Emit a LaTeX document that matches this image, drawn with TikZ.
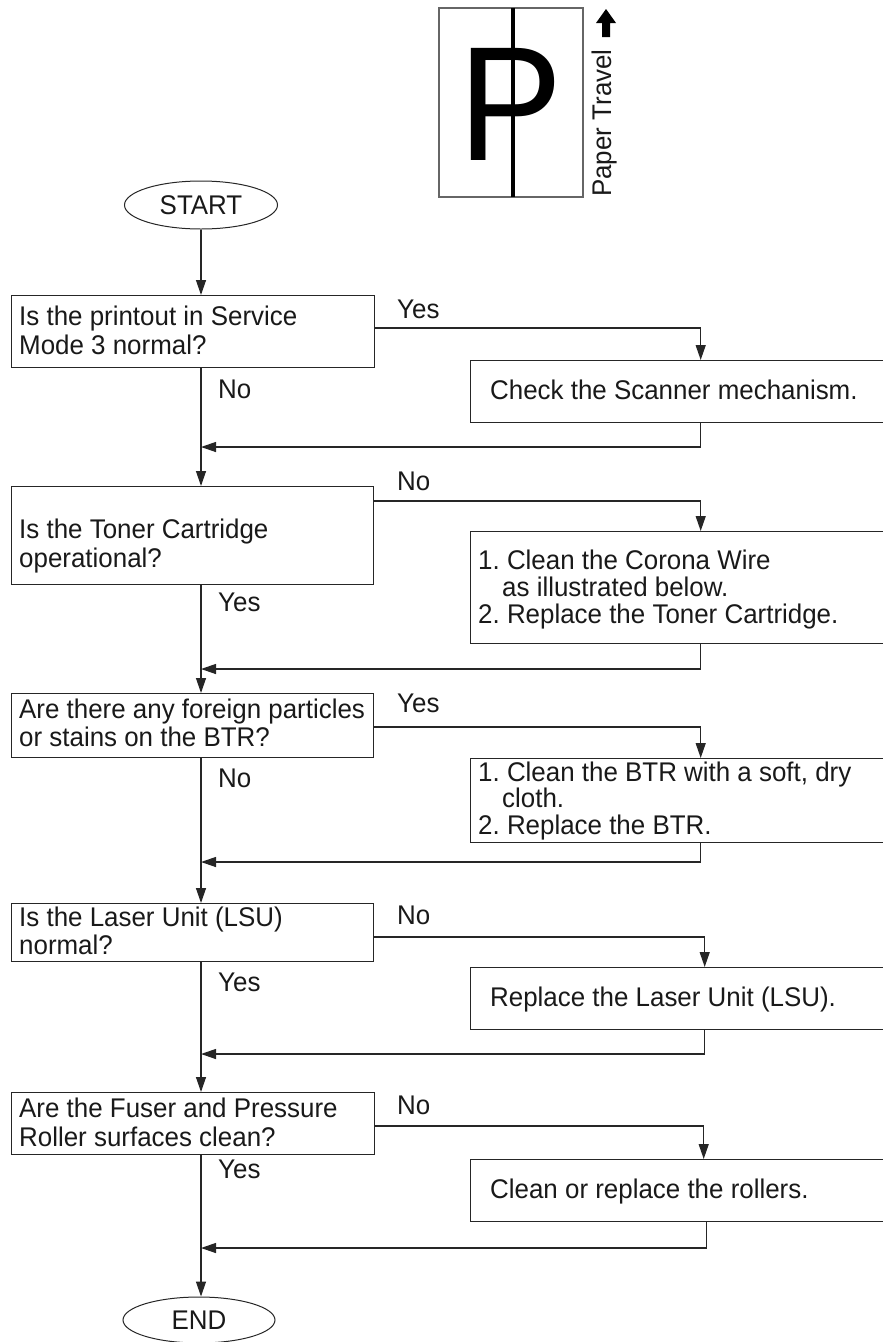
\documentclass[tikz,border=0pt]{standalone}
\usepackage{fontspec}
\setmainfont{Liberation Sans}[FakeStretch=0.96]
\usetikzlibrary{arrows.meta,shapes.geometric,calc}
\newcommand\fsz{\fontsize{27}{30}\selectfont\frenchspacing}
\begin{document}
\begin{tikzpicture}[x=1pt,y=-1pt,
  ln/.style={line width=1.3pt,draw=black!85},
  arr/.style={ln,-{Triangle[length=15pt,width=10pt]}},
  qbox/.style={draw=black!85,line width=1.4pt,inner sep=0pt,anchor=north west},
  abox/.style={draw=black!85,line width=1.4pt,inner sep=0pt,anchor=north west},
  txt/.style={font=\fsz,inner sep=0pt,anchor=base west,text=black!90},
  term/.style={ellipse,draw=black!85,line width=1pt,minimum width=153pt,minimum height=48pt,inner sep=0pt,font=\fsz,text=black!90}]
\useasboundingbox (0,0) rectangle (883,1342);

% paper travel icon
\draw[line width=1.2pt,draw=black!60] (439,8) rectangle (583,197);
\node[font=\fontsize{163}{163}\selectfont,inner sep=0pt,anchor=base west] (pletter) at (458,160) {P};
\draw[line width=4.5pt] (513,8) -- (513,197);
\node[txt,rotate=90] (ptravel) at (611,197) {Paper Travel};
\fill[black] (606,9) -- (616,23) -- (610,23) -- (610,37) -- (602,37) -- (602,23) -- (596,23) -- cycle;

% terminals
\node[term] (start) at (201,205) {START};
\node[term,minimum width=152pt,minimum height=46pt] (end) at (199,1320) {END};

% question boxes
\node[qbox,minimum width=363pt,minimum height=72pt] (b1) at (11,295) {};
\node[qbox,minimum width=362pt,minimum height=98pt] (b2) at (11,486) {};
\node[qbox,minimum width=362pt,minimum height=64pt] (b3) at (11,693) {};
\node[qbox,minimum width=362pt,minimum height=58pt] (b4) at (11,903) {};
\node[qbox,minimum width=363pt,minimum height=62pt] (b5) at (11,1092) {};

\node[txt] (t1a) at (19,325) {Is the printout in Service};
\node[txt] (t1b) at (19,354) {Mode 3 normal?};
\node[txt] (t2a) at (19,538) {Is the Toner Cartridge};
\node[txt] (t2b) at (19,567) {operational?};
\node[txt] (t3a) at (19,718) {Are there any foreign particles};
\node[txt] (t3b) at (19,746) {or stains on the BTR?};
\node[txt] (t4a) at (19,926) {Is the Laser Unit (LSU)};
\node[txt] (t4b) at (19,954) {normal?};
\node[txt] (t5a) at (19,1117) {Are the Fuser and Pressure};
\node[txt] (t5b) at (19,1146) {Roller surfaces clean?};

% action boxes (open to the right edge)
\node[abox,minimum width=460pt,minimum height=62pt] (bA) at (470,360) {};
\node[abox,minimum width=460pt,minimum height=112pt] (bB) at (470,531) {};
\node[abox,minimum width=460pt,minimum height=84pt] (bC) at (470,758) {};
\node[abox,minimum width=468pt,minimum height=62pt] (bD) at (470,967) {};
\node[abox,minimum width=466pt,minimum height=62pt] (bE) at (470,1159) {};

\node[txt] (tA) at (490,399) {Check the Scanner mechanism.};
\node[txt] (tB1) at (478,569) {1. Clean the Corona Wire};
\node[txt] (tB2) at (502,596) {as illustrated below.};
\node[txt] (tB3) at (478,623) {2. Replace the Toner Cartridge.};
\node[txt] (tC1) at (478,781) {1. Clean the BTR with a soft, dry};
\node[txt] (tC2) at (502,807) {cloth.};
\node[txt] (tC3) at (478,834) {2. Replace the BTR.};
\node[txt] (tD) at (490,1006) {Replace the Laser Unit (LSU).};
\node[txt] (tE) at (490,1198) {Clean or replace the rollers.};

% branch labels
\node[txt] (y1) at (397,318) {Yes};
\node[txt] (n1) at (218,398) {No};
\node[txt] (n2) at (397,490) {No};
\node[txt] (y2) at (218,611) {Yes};
\node[txt] (y3) at (397,712) {Yes};
\node[txt] (n3) at (218,787) {No};
\node[txt] (n4) at (397,924) {No};
\node[txt] (y4) at (218,991) {Yes};
\node[txt] (n5) at (397,1114) {No};
\node[txt] (y5) at (218,1178) {Yes};

% junctions on the main line
\coordinate (j1) at (201,447);
\coordinate (j2) at (201,669);
\coordinate (j3) at (201,862);
\coordinate (j4) at (201,1054);
\coordinate (j5) at (201,1248);

% main flow
\draw[arr] (start) -- (start |- b1.north);
\draw[arr] (start |- b1.south) -- (start |- b2.north);
\draw[arr] (start |- b2.south) -- (start |- b3.north);
\draw[arr] (start |- b3.south) -- (start |- b4.north);
\draw[arr] (start |- b4.south) -- (start |- b5.north);
\draw[arr] (start |- b5.south) -- (start |- end.north);

% branches
\draw[arr] ($(b1.north east)+(0,33)$) -| (bA.north);
\draw[arr] ($(b2.north east)+(0,15)$) -| (bB.north);
\draw[arr] ($(b3.north east)+(0,34)$) -| (bC.north);
\draw[arr] ($(b4.north east)+(0,34)$) -| (bD.north);
\draw[arr] ($(b5.north east)+(0,34)$) -| (bE.north);

% returns
\draw[arr] (bA.south) |- (j1);
\draw[arr] (bB.south) |- (j2);
\draw[arr] (bC.south) |- (j3);
\draw[arr] (bD.south) |- (j4);
\draw[arr] ([xshift=3pt]bE.south) |- (j5);
\end{tikzpicture}
\end{document}
